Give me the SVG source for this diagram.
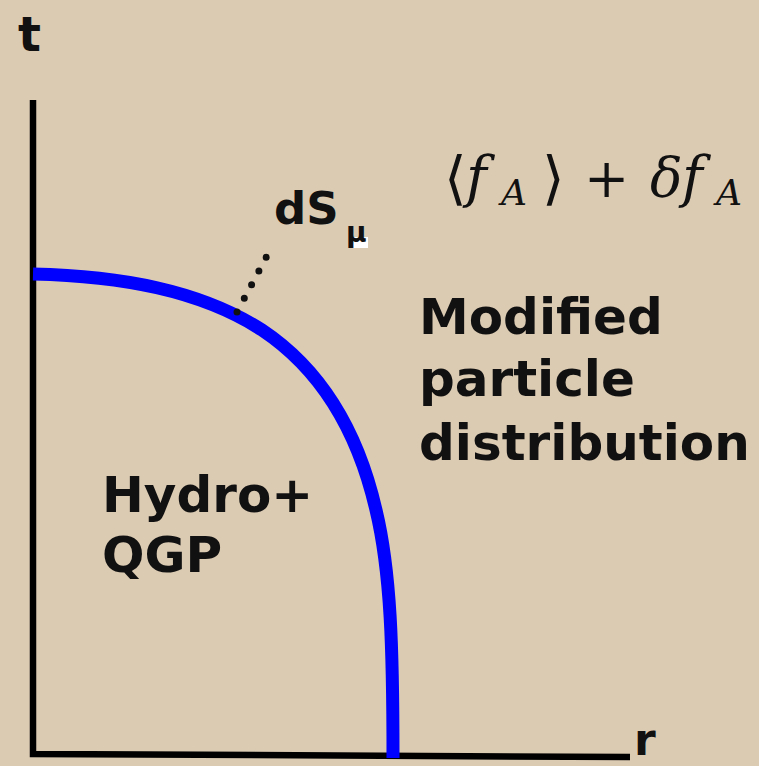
<svg xmlns="http://www.w3.org/2000/svg" width="759" height="766" viewBox="0 0 759 766">
  <style>
    .lbl { font-family: "DejaVu Sans", Verdana, sans-serif; font-weight: bold; fill: #111; }
    .math { font-family: "DejaVu Serif", "Liberation Serif", serif; fill: #111; }
    .it { font-style: italic; }
    .axis { stroke: #000; stroke-width: 6.5; fill: none; }
  </style>
  <rect x="0" y="0" width="759" height="766" fill="#dccbb3"/>
  <g id="axes">
    <path class="axis" d="M33,100 L33,754 L630,757"/>
    <text class="lbl" x="18" y="51" font-size="48">t</text>
    <text class="lbl" x="634" y="755" font-size="44">r</text>
  </g>
  <g id="connectors">
    <path id="surface" d="M33,274 C120,276 200,290 262,330 C322,370 358,432 376,510 C391,572 393,650 393,758" fill="none" stroke="#0000ff" stroke-width="13"/>
    <line x1="237" y1="312" x2="269" y2="252" stroke="#111" stroke-width="7" stroke-linecap="round" stroke-dasharray="0 15.5"/>
  </g>
  <g id="dS">
    <text class="lbl" x="274" y="224" font-size="45">dS</text>
    <rect x="350" y="237" width="18" height="11" fill="#fff"/>
    <text class="lbl" x="346" y="242" font-size="28">μ</text>
  </g>
  <g id="formula">
    <text class="math" x="444" y="198" font-size="58">⟨</text>
    <text class="math it" x="466" y="196" font-size="56">f</text>
    <text class="math it" x="501" y="205" font-size="36">A</text>
    <text class="math" x="542" y="198" font-size="58">⟩</text>
    <text class="math" x="584" y="197" font-size="54">+</text>
    <text class="math it" x="650" y="196" font-size="54">δ</text>
    <text class="math it" x="682" y="196" font-size="56">f</text>
    <text class="math it" x="716" y="205" font-size="36">A</text>
  </g>
  <g id="outside">
    <text class="lbl" x="419" y="334" font-size="50">Modified</text>
    <text class="lbl" x="419" y="396" font-size="50">particle</text>
    <text class="lbl" x="419" y="460" font-size="50">distribution</text>
  </g>
  <g id="inside">
    <text class="lbl" x="102" y="512" font-size="50">Hydro+</text>
    <text class="lbl" x="102" y="572" font-size="50">QGP</text>
  </g>
</svg>
